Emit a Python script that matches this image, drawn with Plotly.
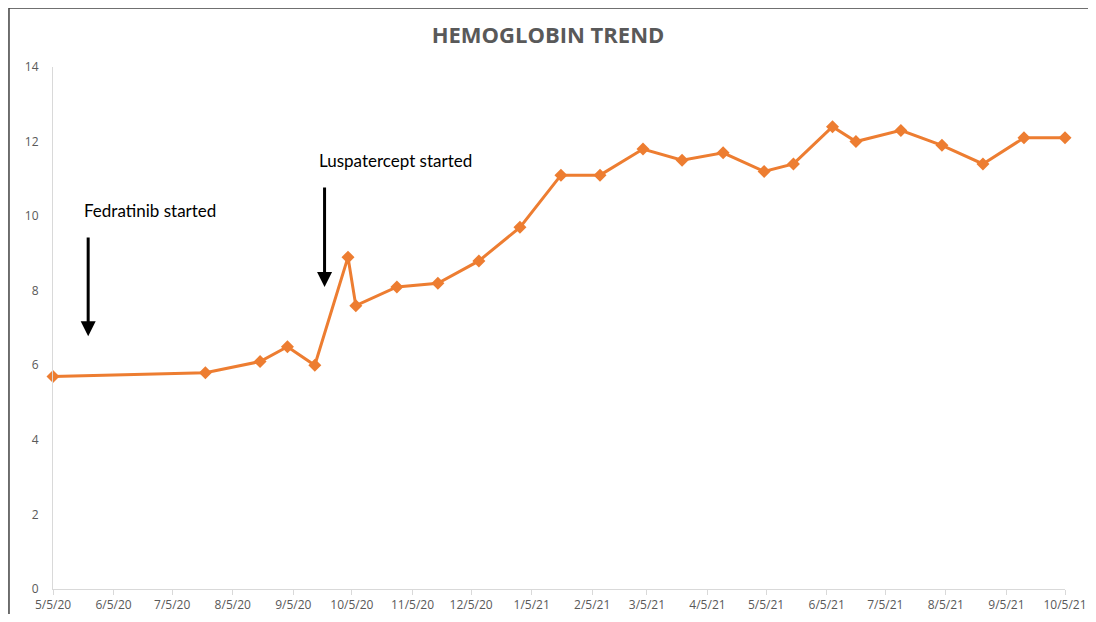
import plotly.graph_objects as go

# Data
dates = ["2020-05-05", "2020-07-22", "2020-08-19", "2020-09-02", "2020-09-16",
         "2020-10-03", "2020-10-07", "2020-10-28", "2020-11-18", "2020-12-09",
         "2020-12-30", "2021-01-20", "2021-02-09", "2021-03-03", "2021-03-23",
         "2021-04-13", "2021-05-04", "2021-05-19", "2021-06-08", "2021-06-20",
         "2021-07-13", "2021-08-03", "2021-08-24", "2021-09-14", "2021-10-05"]
hemoglobin = [5.7, 5.8, 6.1, 6.5, 6.0, 8.9, 7.6, 8.1, 8.2, 8.8,
              9.7, 11.1, 11.1, 11.8, 11.5, 11.7, 11.2, 11.4, 12.4, 12.0,
              12.3, 11.9, 11.4, 12.1, 12.1]

tick_dates = ["2020-05-05", "2020-06-05", "2020-07-05", "2020-08-05", "2020-09-05",
              "2020-10-05", "2020-11-05", "2020-12-05", "2021-01-05", "2021-02-05",
              "2021-03-05", "2021-04-05", "2021-05-05", "2021-06-05", "2021-07-05",
              "2021-08-05", "2021-09-05", "2021-10-05"]
tick_labels = ["5/5/20", "6/5/20", "7/5/20", "8/5/20", "9/5/20", "10/5/20",
               "11/5/20", "12/5/20", "1/5/21", "2/5/21", "3/5/21", "4/5/21",
               "5/5/21", "6/5/21", "7/5/21", "8/5/21", "9/5/21", "10/5/21"]
y_ticks = [0, 2, 4, 6, 8, 10, 12, 14]

# Event annotations
event_labels = ["Fedratinib started", "Luspatercept started"]
event_label_dates = ["2020-05-20", "2020-09-17"]
event_label_y = [10.14, 11.48]
arrow_dates = ["2020-05-23", "2020-09-21"]
arrow_tail_y = [9.47, 10.81]
arrow_tip_y = [6.78, 8.10]

FIG_W, FIG_H = 1080, 606

fig = go.Figure()
fig.add_trace(go.Scatter(
    x=dates, y=hemoglobin, mode="lines+markers",
    line=dict(color="#ED7D31", width=3),
    marker=dict(symbol="diamond", size=10, color="#ED7D31"),
    showlegend=False, hoverinfo="x+y", cliponaxis=False,
))

annotations = []
for lbl, d, yv in zip(event_labels, event_label_dates, event_label_y):
    annotations.append(dict(x=d, y=yv, xref="x", yref="y", text=lbl,
                            showarrow=False, xanchor="left", yanchor="middle",
                            font=dict(family="Lato", size=17, color="#000000")))
for d, yt, yh in zip(arrow_dates, arrow_tail_y, arrow_tip_y):
    annotations.append(dict(x=d, y=yh, xref="x", yref="y", ax=d, ay=yt,
                            axref="x", ayref="y", text="", showarrow=True,
                            arrowhead=2, arrowsize=1, arrowwidth=3,
                            arrowcolor="#000000"))

fig.update_layout(
    width=FIG_W, height=FIG_H,
    margin=dict(l=45, r=23, t=59, b=25, autoexpand=False),
    paper_bgcolor="white", plot_bgcolor="white",
    title=dict(text="<b>HEMOGLOBIN TREND</b>", x=0.5, xanchor="center",
               y=1 - 27 / FIG_H, yanchor="middle",
               font=dict(family="Open Sans", size=22, color="#595959")),
    annotations=annotations,
    xaxis=dict(type="date", range=["2020-05-05", "2021-10-05"],
               tickvals=tick_dates, ticktext=tick_labels, automargin=False,
               showgrid=False, zeroline=False,
               showline=True, linecolor="#D9D9D9", linewidth=1,
               ticks="outside", ticklen=5, tickcolor="#D9D9D9",
               tickfont=dict(family="Open Sans", size=12, color="#595959")),
    yaxis=dict(range=[0, 14], tickvals=y_ticks, automargin=False,
               showgrid=False, zeroline=False,
               showline=True, linecolor="#D9D9D9", linewidth=1,
               ticks="", ticklabelstandoff=11,
               tickfont=dict(family="Open Sans", size=12, color="#595959")),
    shapes=[
        dict(type="line", xref="paper", yref="paper", x0=-0.0435, x1=1.05,
             y0=1.113, y1=1.113, line=dict(color="#404040", width=1.5)),
        dict(type="line", xref="paper", yref="paper", x0=-0.0435, x1=-0.0435,
             y0=1.113, y1=-0.07, line=dict(color="#404040", width=1.5)),
    ],
)

fig.write_html("out.html")
